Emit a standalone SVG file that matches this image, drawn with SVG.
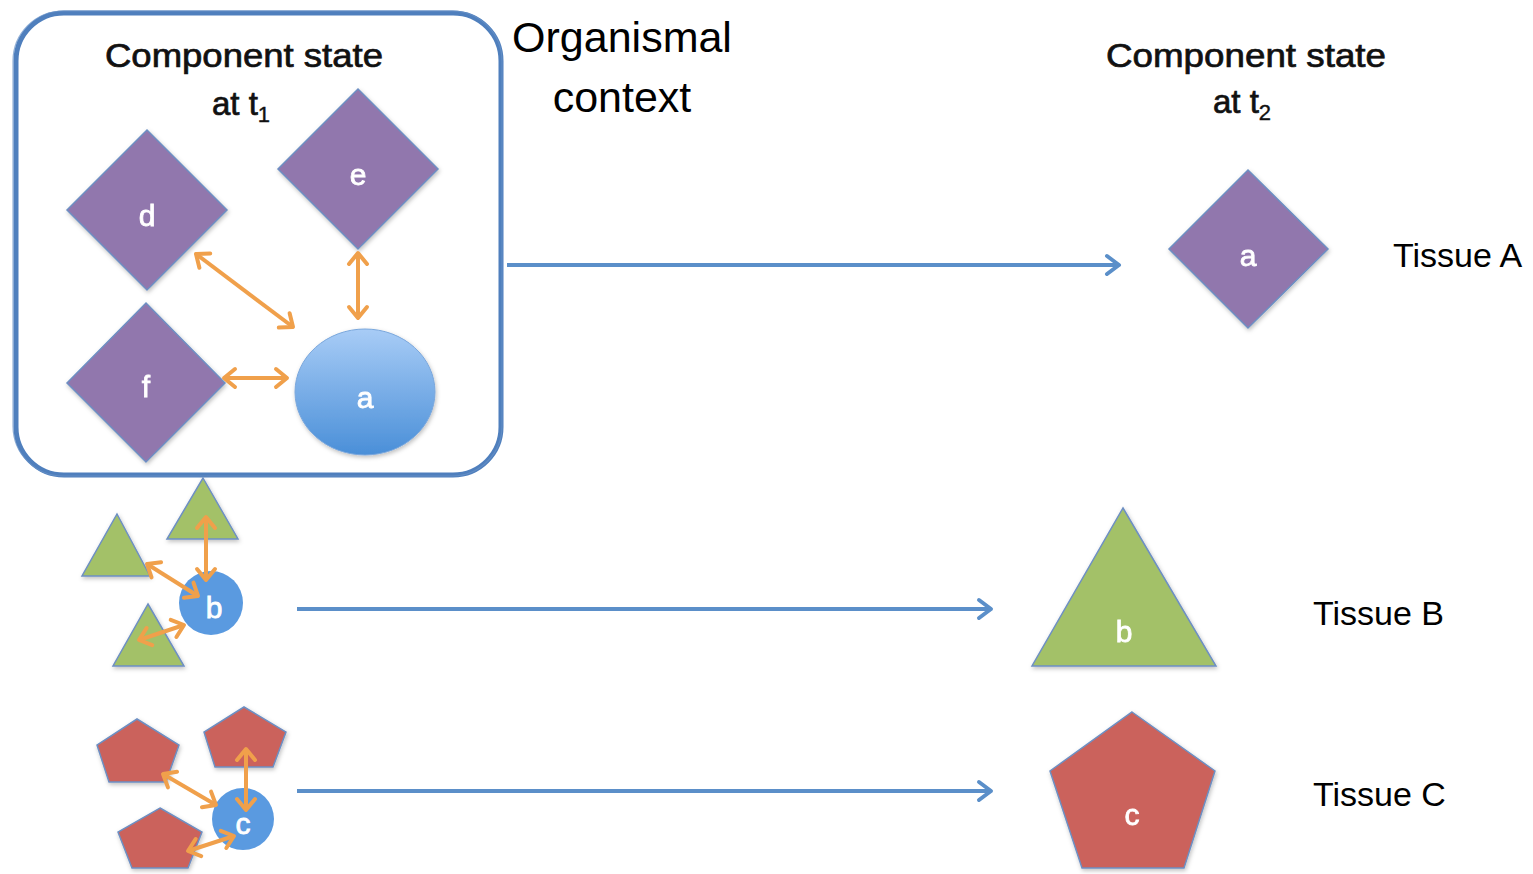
<svg xmlns="http://www.w3.org/2000/svg" width="1533" height="874" viewBox="0 0 1533 874">
<style>
.lbl{font-family:"Liberation Sans",Arial,sans-serif;fill:#000}
.head{font-family:"Liberation Sans",Arial,sans-serif;font-size:33px;fill:#111;stroke:#111;stroke-width:0.7}
.in{font-family:"Liberation Sans",Arial,sans-serif;fill:#fff;stroke:#fff;stroke-width:0.8;text-anchor:middle;font-size:30px}
.purple{fill:#9177ad;stroke:#6d8fc3;stroke-width:1.5}
.green{fill:#a3c168;stroke:#6d8fc3;stroke-width:1.5}
.red{fill:#cb625b;stroke:#6d8fc3;stroke-width:1.5}
.blue{fill:#5a9ae0}
.oa{stroke:#f0a04b;stroke-width:4;fill:none;marker-start:url(#oh);marker-end:url(#oh)}
.ba{stroke:#5b8fc9;stroke-width:4;fill:none;marker-end:url(#bh)}
</style>
<defs>
<marker id="oh" markerUnits="userSpaceOnUse" markerWidth="30" markerHeight="30" viewBox="-15 -15 30 30" refX="0" refY="0" orient="auto-start-reverse">
<path d="M-11,-9 L0,0 L-11,9" fill="none" stroke="#f0a04b" stroke-width="4" stroke-linecap="round" stroke-linejoin="round"/>
</marker>
<marker id="bh" markerUnits="userSpaceOnUse" markerWidth="30" markerHeight="30" viewBox="-15 -15 30 30" refX="0" refY="0" orient="auto">
<path d="M-12,-9 L0,0 L-12,9" fill="none" stroke="#5b8fc9" stroke-width="4" stroke-linecap="round" stroke-linejoin="round"/>
</marker>
<linearGradient id="ga" x1="0" y1="0" x2="0" y2="1">
<stop offset="0" stop-color="#a8ccf6"/>
<stop offset="1" stop-color="#4a8fd8"/>
</linearGradient>
<filter id="sh" x="-20%" y="-20%" width="140%" height="140%">
<feDropShadow dx="1" dy="2" stdDeviation="2" flood-color="#000" flood-opacity="0.25"/>
</filter>
</defs>
<rect width="1533" height="874" fill="#fff"/>

<g id="context-box">
<rect x="16" y="13" width="485" height="462" rx="48" fill="none" stroke="#4f7fbd" stroke-width="5"/>
<rect x="13" y="11" width="489" height="465" rx="50" fill="none" stroke="#6a93c8" stroke-width="1.2" opacity="0.7"/>
<text class="head" x="244" y="67" text-anchor="middle" textLength="278" lengthAdjust="spacingAndGlyphs">Component state</text>
<text class="head" x="212" y="115">at t<tspan font-size="22" dy="7" stroke-width="0.4">1</tspan></text>
</g>

<g id="label-organismal">
<text class="lbl" x="622" y="52" font-size="43" text-anchor="middle">Organismal</text>
<text class="lbl" x="622" y="112" font-size="43" text-anchor="middle">context</text>
</g>

<g id="label-t2">
<text class="head" x="1246" y="67" text-anchor="middle" textLength="280" lengthAdjust="spacingAndGlyphs">Component state</text>
<text class="head" x="1213" y="113">at t<tspan font-size="22" dy="7" stroke-width="0.4">2</tspan></text>
</g>

<g id="node-d" filter="url(#sh)">
<polygon class="purple" points="147,130 227,210 147,290 67,210"/>
<text class="in" x="147" y="226">d</text>
</g>
<g id="node-e" filter="url(#sh)">
<polygon class="purple" points="358,89 438,169 358,249 278,169"/>
<text class="in" x="358" y="185">e</text>
</g>
<g id="node-f" filter="url(#sh)">
<polygon class="purple" points="146,303 225,383 146,462 67,383"/>
<text class="in" x="146" y="397">f</text>
</g>
<g id="node-a1" filter="url(#sh)">
<ellipse cx="365" cy="392" rx="70" ry="63" fill="url(#ga)" stroke="#7aa7dc" stroke-width="1"/>
<text class="in" x="365" y="408">a</text>
</g>

<g id="node-tri1" filter="url(#sh)"><polygon class="green" points="203,478 238,539 167,539"/></g>
<g id="node-tri2" filter="url(#sh)"><polygon class="green" points="117,514 150,576 82,576"/></g>
<g id="node-tri3" filter="url(#sh)"><polygon class="green" points="148,604 184,666 113,666"/></g>
<g id="node-b1">
<circle class="blue" cx="211" cy="603" r="32"/>
<text class="in" x="214" y="618">b</text>
</g>

<g id="node-pent1" filter="url(#sh)"><polygon class="red" points="137,719 179,745 166,782 109,782 97,745"/></g>
<g id="node-pent2" filter="url(#sh)"><polygon class="red" points="244,707 286,732 273,767 215,767 204,732"/></g>
<g id="node-pent3" filter="url(#sh)"><polygon class="red" points="160,808 202,832 188,868 132,868 118,832"/></g>
<g id="node-c1">
<circle class="blue" cx="243" cy="819" r="31"/>
<text class="in" x="243" y="834">c</text>
</g>

<g id="node-a2" filter="url(#sh)">
<polygon class="purple" points="1248,170 1328,249 1248,328 1169,249"/>
<text class="in" x="1248" y="266" font-size="28">a</text>
</g>
<g id="node-b2" filter="url(#sh)">
<polygon class="green" points="1123,508 1216,666 1032,666"/>
<text class="in" x="1124" y="642">b</text>
</g>
<g id="node-c2" filter="url(#sh)">
<polygon class="red" points="1132,712 1215,771 1184,868 1082,868 1050,771"/>
<text class="in" x="1132" y="825">c</text>
</g>

<g id="tissue-labels">
<text class="lbl" x="1393" y="267" font-size="34">Tissue A</text>
<text class="lbl" x="1313" y="625" font-size="34">Tissue B</text>
<text class="lbl" x="1313" y="806" font-size="34">Tissue C</text>
</g>

<g id="connectors">
<line class="oa" x1="196" y1="254" x2="293" y2="327"/>
<line class="oa" x1="358" y1="253" x2="358" y2="318"/>
<line class="oa" x1="224" y1="378" x2="287" y2="378"/>
<line class="oa" x1="206" y1="517" x2="206" y2="580"/>
<line class="oa" x1="147" y1="564" x2="198" y2="596"/>
<line class="oa" x1="139" y1="640" x2="184" y2="625"/>
<line class="oa" x1="246" y1="749" x2="246" y2="810"/>
<line class="oa" x1="163" y1="774" x2="216" y2="805"/>
<line class="oa" x1="188" y1="851" x2="234" y2="836"/>
<line class="ba" x1="507" y1="265" x2="1119" y2="265"/>
<line class="ba" x1="297" y1="609" x2="991" y2="609"/>
<line class="ba" x1="297" y1="791" x2="991" y2="791"/>
</g>
</svg>
